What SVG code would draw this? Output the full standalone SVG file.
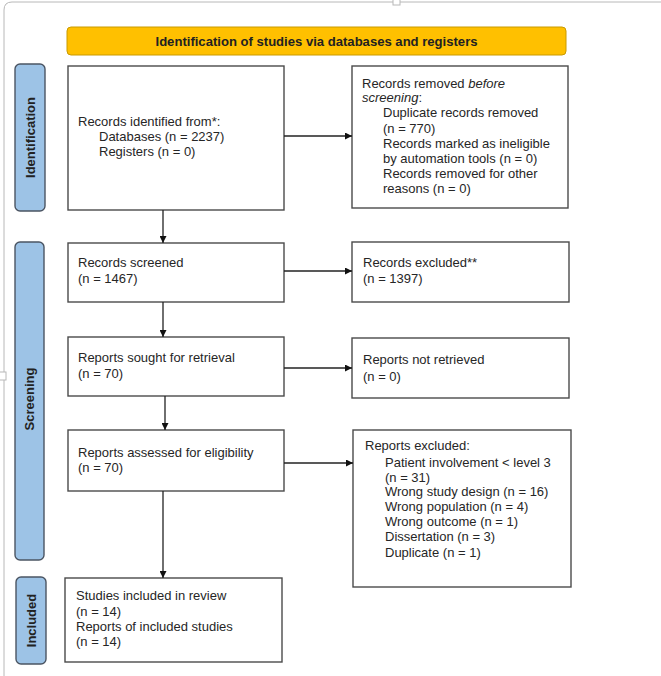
<svg xmlns="http://www.w3.org/2000/svg" width="661" height="676" viewBox="0 0 661 676">
<defs>
<marker id="ah" viewBox="0 0 10 10" refX="10" refY="5" markerWidth="7" markerHeight="7" markerUnits="userSpaceOnUse" orient="auto">
<path d="M0,0 L10,5 L0,10 z" fill="#111"/>
</marker>
<style>
.box{fill:#fff;stroke:#4a4a4a;stroke-width:1.4}
.side{fill:#9dc3e6;stroke:#4b5563;stroke-width:1.4}
.t{font-family:"Liberation Sans",Arial,sans-serif;font-size:13px;fill:#262626}
.lab{font-family:"Liberation Sans",Arial,sans-serif;font-size:12px;font-weight:bold;fill:#222}
.side-t{font-family:"Liberation Sans",Arial,sans-serif;font-size:13px;font-weight:bold;fill:#222}
.con{stroke:#222;stroke-width:1.3;fill:none;marker-end:url(#ah)}
</style>
</defs>
<rect width="661" height="676" fill="#fff"/>
<g id="frame" stroke="#b8b8b8" stroke-width="1" fill="none">
<path d="M4,676 L4,10 Q4,2 12,2 L661,2"/>
<rect x="393" y="-2" width="7" height="7" fill="#fff"/>
<rect x="-2" y="372" width="8" height="8" fill="#fff"/>
</g>
<g id="header">
<rect x="67" y="27" width="499" height="28" rx="4" fill="#ffc000" stroke="#c99a00" stroke-width="1"/>
<text class="lab" x="316.5" y="45.5" text-anchor="middle" textLength="322" lengthAdjust="spacingAndGlyphs">Identification of studies via databases and registers</text>
</g>
<g id="side-identification">
<rect class="side" x="15" y="64" width="30" height="147" rx="5"/>
<text class="side-t" transform="translate(34.5,137.5) rotate(-90)" text-anchor="middle">Identification</text>
</g>
<g id="side-screening">
<rect class="side" x="15" y="242" width="29" height="318" rx="5"/>
<text class="side-t" transform="translate(34,399) rotate(-90)" text-anchor="middle">Screening</text>
</g>
<g id="side-included">
<rect class="side" x="16" y="577" width="30" height="87" rx="5"/>
<text class="side-t" transform="translate(35.5,620.5) rotate(-90)" text-anchor="middle">Included</text>
</g>
<g id="n-identified">
<rect class="box" x="68" y="66" width="216" height="144"/>
<text class="t" x="78" y="125.5">Records identified from*:</text>
<text class="t" x="99" y="141">Databases (n = 2237)</text>
<text class="t" x="99" y="156">Registers (n = 0)</text>
</g>
<g id="n-removed">
<rect class="box" x="352" y="66" width="216" height="142"/>
<text class="t" x="362" y="88">Records removed <tspan font-style="italic">before</tspan></text>
<text class="t" x="362" y="102" font-style="italic">screening<tspan font-style="normal">:</tspan></text>
<text class="t" x="383" y="117">Duplicate records removed</text>
<text class="t" x="383" y="133">(n = 770)</text>
<text class="t" x="383" y="148">Records marked as ineligible</text>
<text class="t" x="383" y="163">by automation tools (n = 0)</text>
<text class="t" x="383" y="178">Records removed for other</text>
<text class="t" x="383" y="193">reasons (n = 0)</text>
</g>
<g id="n-screened">
<rect class="box" x="68" y="243" width="216" height="59"/>
<text class="t" x="78" y="267">Records screened</text>
<text class="t" x="78" y="283">(n = 1467)</text>
</g>
<g id="n-excluded">
<rect class="box" x="352" y="242" width="217" height="60"/>
<text class="t" x="363" y="267">Records excluded**</text>
<text class="t" x="363" y="283">(n = 1397)</text>
</g>
<g id="n-sought">
<rect class="box" x="68" y="337" width="216" height="59"/>
<text class="t" x="78" y="362">Reports sought for retrieval</text>
<text class="t" x="78" y="378">(n = 70)</text>
</g>
<g id="n-notretrieved">
<rect class="box" x="352" y="338" width="217" height="60"/>
<text class="t" x="363" y="364">Reports not retrieved</text>
<text class="t" x="363" y="381">(n = 0)</text>
</g>
<g id="n-assessed">
<rect class="box" x="68" y="430" width="216" height="61"/>
<text class="t" x="78" y="457">Reports assessed for eligibility</text>
<text class="t" x="78" y="472">(n = 70)</text>
</g>
<g id="n-reportsexcluded">
<rect class="box" x="353" y="430" width="218" height="157"/>
<text class="t" x="365" y="450">Reports excluded:</text>
<text class="t" x="385" y="467">Patient involvement &lt; level 3</text>
<text class="t" x="385" y="482">(n = 31)</text>
<text class="t" x="385" y="496">Wrong study design (n = 16)</text>
<text class="t" x="385" y="511">Wrong population (n = 4)</text>
<text class="t" x="385" y="526">Wrong outcome (n = 1)</text>
<text class="t" x="385" y="541">Dissertation (n = 3)</text>
<text class="t" x="385" y="557">Duplicate (n = 1)</text>
</g>
<g id="n-included">
<rect class="box" x="65" y="578" width="217" height="84"/>
<text class="t" x="76" y="600">Studies included in review</text>
<text class="t" x="76" y="616">(n = 14)</text>
<text class="t" x="76" y="631">Reports of included studies</text>
<text class="t" x="76" y="646">(n = 14)</text>
</g>
<g id="connectors">
<path class="con" d="M284,136 L352,136"/>
<path class="con" d="M163,210 L163,243"/>
<path class="con" d="M284,271 L352,271"/>
<path class="con" d="M163,302 L163,337"/>
<path class="con" d="M284,368 L352,368"/>
<path class="con" d="M165,396 L165,430"/>
<path class="con" d="M284,463 L353,463"/>
<path class="con" d="M163,491 L163,578"/>
</g>
</svg>
